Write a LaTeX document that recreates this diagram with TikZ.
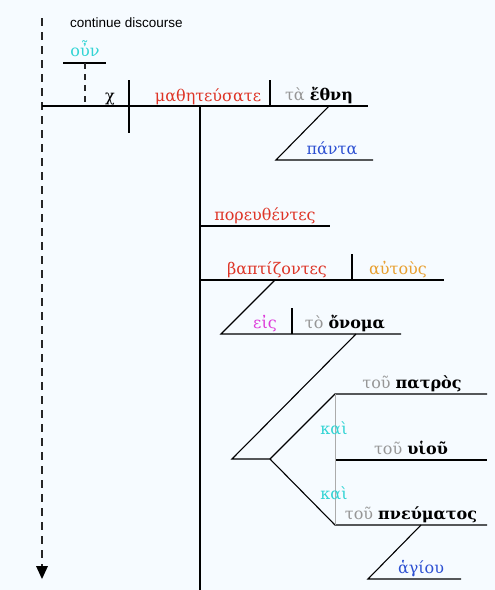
\documentclass[tikz,border=0pt]{standalone}
\usepackage{fontspec}
\setmainfont{DejaVu Serif}
\newfontfamily\notefont{Liberation Sans}
\usepackage{tikz}
\usepackage{xcolor}
\usetikzlibrary{arrows.meta}
\definecolor{fond}{RGB}{246,251,255}
\definecolor{rougeverbe}{RGB}{222,52,38}
\definecolor{cyanconj}{RGB}{50,212,212}
\definecolor{bleuadj}{RGB}{45,80,210}
\definecolor{orangepron}{RGB}{232,160,48}
\definecolor{magentaprep}{RGB}{222,60,218}
\definecolor{grisart}{RGB}{150,150,150}
\tikzset{
Ligne/.style={
 draw=black,
 line width=1.1pt
 },
Pointille/.style={
 draw=black!85,
 line width=1.4pt,
 dash pattern=on 8pt off 6pt
 },
Lien/.style={
 draw=grisart!80,
 line width=0.9pt
 },
Mot/.style={
 anchor=base,
 inner sep=0pt,
 font=\fontsize{16}{19}\selectfont
 },
Note/.style={
 anchor=base west,
 inner sep=0pt,
 font=\notefont\fontsize{13.5}{16}\selectfont
 }
}
\begin{document}
\begin{tikzpicture}[x=1pt,y=-1pt]
\useasboundingbox (0,0) rectangle (495,590);
\fill[fond] (0,0) rectangle (495,590);
% discourse line
\coordinate (dtop) at (42,18);
\coordinate (dbot) at (42,566);
\coordinate (dtip) at (42,579);
\draw[Pointille] (dtop) -- (dbot);
\fill[black] (dtip) -- ++(-6,-13) -- ++(12,0) -- cycle;
\node[Note] (cont) at (70,27) {continue discourse};
% conjunction
\coordinate (oa) at (63,63);
\coordinate (ob) at (106,63);
\coordinate (oc) at (85,63);
\coordinate (od) at (85,106);
\draw[Ligne] (oa) -- (ob);
\draw[Pointille,dash pattern=on 6pt off 5pt] (oc) -- (od);
\node[Mot,text=cyanconj] (oun) at (85,56) {οὖν};
% main clause
\coordinate (ma) at (42,106);
\coordinate (mb) at (368,106);
\coordinate (sv1) at (129,80);
\coordinate (sv2) at (129,133);
\coordinate (vo1) at (270,80);
\coordinate (vo2) at (270,106);
\draw[Ligne] (ma) -- (mb);
\draw[Ligne] (sv1) -- (sv2);
\draw[Ligne] (vo1) -- (vo2);
\node[Mot] (chi) at (110,101) {χ};
\node[Mot,text=rougeverbe] (verbe) at (208,101) {μαθητεύσατε};
\node[Mot] (ethne) at (319,100) {{\color{grisart}τὰ} \textbf{ἔθνη}};
% panta
\coordinate (pa) at (329,106);
\coordinate (pb) at (276,160);
\coordinate (pc) at (373,160);
\draw[Ligne] (pa) -- (pb) -- (pc);
\node[Mot,text=bleuadj] (panta) at (332,154) {πάντα};
% participles stem
\coordinate (ta) at (200,106);
\coordinate (tb) at (200,590);
\draw[Ligne] (ta) -- (tb);
\coordinate (po1) at (200,226);
\coordinate (po2) at (330,226);
\draw[Ligne] (po1) -- (po2);
\node[Mot,text=rougeverbe] (poreu) at (265,220) {πορευθέντες};
\coordinate (ba1) at (200,280);
\coordinate (ba2) at (444,280);
\coordinate (bd1) at (352,254);
\coordinate (bd2) at (352,280);
\draw[Ligne] (ba1) -- (ba2);
\draw[Ligne] (bd1) -- (bd2);
\node[Mot,text=rougeverbe] (bapt) at (277,274) {βαπτίζοντες};
\node[Mot,text=orangepron] (autous) at (398,274) {αὐτοὺς};
% eis to onoma
\coordinate (ea) at (275,280);
\coordinate (eb) at (221,334);
\coordinate (ec) at (401,334);
\coordinate (ed1) at (292,308);
\coordinate (ed2) at (292,334);
\draw[Ligne] (ea) -- (eb) -- (ec);
\draw[Ligne] (ed1) -- (ed2);
\node[Mot,text=magentaprep] (eis) at (265,328) {εἰς};
\node[Mot] (onoma) at (345,328) {{\color{grisart}τὸ} \textbf{ὄνομα}};
% compound genitive
\coordinate (ga) at (356,334);
\coordinate (apex) at (232,459);
\coordinate (fork) at (270,459);
\coordinate (f1) at (335,394);
\coordinate (f2) at (335,460);
\coordinate (f3) at (335,525);
\coordinate (e1) at (487,394);
\coordinate (e2) at (487,460);
\coordinate (e3) at (487,525);
\draw[Ligne] (ga) -- (apex) -- (fork);
\draw[Ligne] (fork) -- (f1) -- (e1);
\draw[Ligne] (fork) -- (f3) -- (e3);
\draw[Ligne] (f2) -- (e2);
\draw[Lien] (f1) -- (f3);
\node[Mot,text=cyanconj] (kai1) at (334,434) {καὶ};
\node[Mot,text=cyanconj] (kai2) at (334,499) {καὶ};
\node[Mot] (patros) at (412,388) {{\color{grisart}τοῦ} \textbf{πατρὸς}};
\node[Mot] (huiou) at (411,454) {{\color{grisart}τοῦ} \textbf{υἱοῦ}};
\node[Mot] (pneum) at (411,519) {{\color{grisart}τοῦ} \textbf{πνεύματος}};
% hagiou
\coordinate (ha) at (421,525);
\coordinate (hb) at (368,579);
\coordinate (hc) at (461,579);
\draw[Ligne] (ha) -- (hb) -- (hc);
\node[Mot,text=bleuadj] (hagiou) at (421,573) {ἁγίου};
\end{tikzpicture}
\end{document}
